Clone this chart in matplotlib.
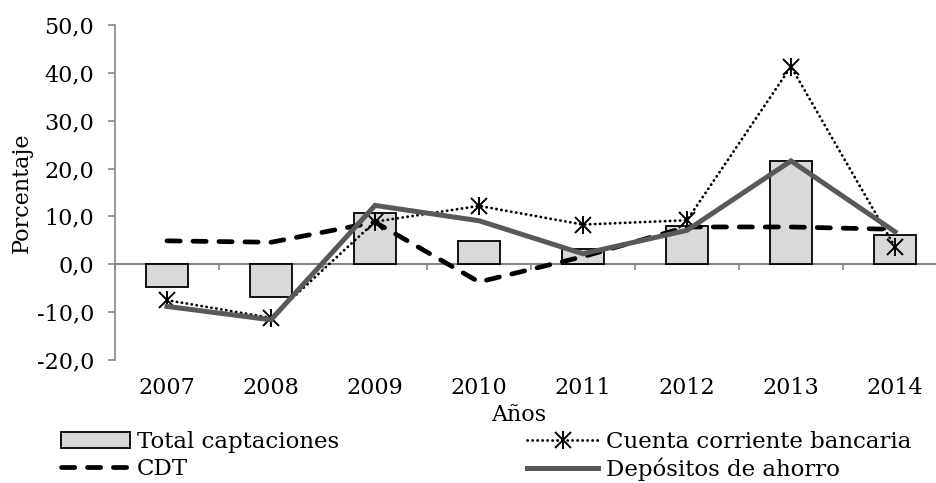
import matplotlib
matplotlib.use("Agg")
import matplotlib.pyplot as plt
import numpy as np
from matplotlib.ticker import FuncFormatter

plt.rcParams['font.family'] = ['DejaVu Serif']

years = ['2007', '2008', '2009', '2010', '2011', '2012', '2013', '2014']
total_captaciones = [-4.7, -6.8, 10.8, 4.9, 3.1, 8.0, 21.6, 6.2]
cuenta_corriente = [-7.5, -11.2, 8.9, 12.2, 8.3, 9.2, 41.3, 3.6]
cdt = [4.9, 4.6, 8.8, -3.7, 1.6, 7.8, 7.8, 7.3]
depositos_ahorro = [-8.8, -11.6, 12.3, 9.1, 2.2, 7.1, 21.6, 6.8]
yticks = [-20, -10, 0, 10, 20, 30, 40, 50]

W, H = 936, 483
fig = plt.figure(figsize=(W/100, H/100), dpi=100)
ax = fig.add_axes([115/W, 1-360/H, 832/W, 335/H])
x = np.arange(len(years))
gray = '#868686'
fs = 16
lfs = 16.5

bars = ax.bar(x, total_captaciones, width=0.41, color='#d9d9d9', edgecolor='black', linewidth=1.3, zorder=2)
l_cdt, = ax.plot(x, cdt, color='black', lw=3.4, dashes=(2.8, 2.7), dash_capstyle='round', zorder=3)
l_cc, = ax.plot(x, cuenta_corriente, color='black', lw=2.0, linestyle=(0, (0.1, 1.7)), dash_capstyle='round',
                marker='x', ms=11, mew=1.4, zorder=4)
l_cc2, = ax.plot(x, cuenta_corriente, linestyle='none', marker='|', ms=13, mew=1.4, color='black', zorder=4)
l_dep, = ax.plot(x, depositos_ahorro, color='#595959', lw=3.6, solid_joinstyle='miter', zorder=5)

ax.set_xlim(-0.5, len(years)-0.5)
ax.set_ylim(-20, 50)
ax.set_yticks(yticks)
ax.yaxis.set_major_formatter(FuncFormatter(lambda v, p: f"{v:.1f}".replace('.', ',')))
ax.tick_params(axis='y', direction='out', length=5, width=1.2, color=gray, labelsize=fs, pad=10)
ax.set_xticks(x)
ax.set_xticklabels(years)
ax.tick_params(axis='x', length=0, labelsize=fs, pad=12)

for s in ['top', 'right', 'bottom']:
    ax.spines[s].set_visible(False)
ax.spines['left'].set_color(gray)
ax.spines['left'].set_linewidth(1.2)

sec = ax.secondary_xaxis(20/70)
sec.spines['bottom'].set_color(gray)
sec.spines['bottom'].set_linewidth(1.5)
sec.set_xticks(np.arange(-0.5, len(years)+0.5, 1.0))
sec.tick_params(axis='x', direction='out', length=4, width=1.2, color=gray, labelbottom=False)

ax.set_xlabel('Años', fontsize=fs)
ax.xaxis.set_label_coords((519-115)/832, (360-415)/335)
ax.xaxis.label.set_va('center')
ax.set_ylabel('Porcentaje', fontsize=fs, labelpad=3)

leg1 = fig.legend([bars, l_cdt], ['Total captaciones', 'CDT'], loc='upper left',
                  bbox_to_anchor=(61/W, 1-431/H), frameon=False, fontsize=lfs, handlelength=3.0,
                  handletextpad=0.3, labelspacing=0.2, borderaxespad=0, borderpad=0)
leg2 = fig.legend([(l_cc, l_cc2), l_dep], ['Cuenta corriente bancaria', 'Depósitos de ahorro'], loc='upper left',
                  bbox_to_anchor=(527/W, 1-431/H), frameon=False, fontsize=lfs, handlelength=3.1,
                  handletextpad=0.33, labelspacing=0.2, borderaxespad=0, borderpad=0)

fig.savefig('out.png', dpi=100)
